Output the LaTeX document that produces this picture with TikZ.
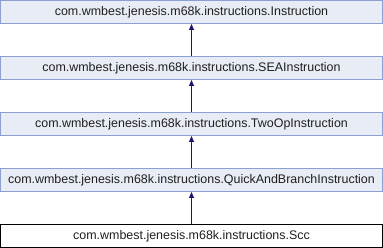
\documentclass[tikz,border=0pt]{standalone}
\usepackage{fontspec}
\setmainfont{Liberation Sans}
\usetikzlibrary{arrows.meta}
\definecolor{nodefill}{HTML}{E8ECF5}
\definecolor{nodeedge}{HTML}{8AA0D0}
\definecolor{edgeblue}{HTML}{191970}
\begin{document}
\begin{tikzpicture}[x=1pt,y=-1pt,
  cls/.style={draw=nodeedge,fill=nodefill,line width=1pt,minimum width=382pt,minimum height=23pt,
    inner sep=0pt,font=\fontsize{12.45pt}{14pt}\selectfont,text=black!88},
  current/.style={cls,draw=black,fill=white},
  inherit/.style={draw=edgeblue,line width=1.1pt,-{Triangle[length=6pt,width=5pt]}}]
  \useasboundingbox (0,0) rectangle (383,248);
  \node[cls] (instr) at (191.5,12) {com.wmbest.jenesis.m68k.instructions.Instruction};
  \node[cls] (sea) at (191.5,68) {com.wmbest.jenesis.m68k.instructions.SEAInstruction};
  \node[cls] (twoop) at (191.5,124) {com.wmbest.jenesis.m68k.instructions.TwoOpInstruction};
  \node[cls] (quick) at (191.5,180) {com.wmbest.jenesis.m68k.instructions.QuickAndBranchInstruction};
  \node[current] (scc) at (191.5,236) {com.wmbest.jenesis.m68k.instructions.Scc};
  \draw[inherit] (sea) -- (instr);
  \draw[inherit] (twoop) -- (sea);
  \draw[inherit] (quick) -- (twoop);
  \draw[inherit] (scc) -- (quick);
\end{tikzpicture}
\end{document}
